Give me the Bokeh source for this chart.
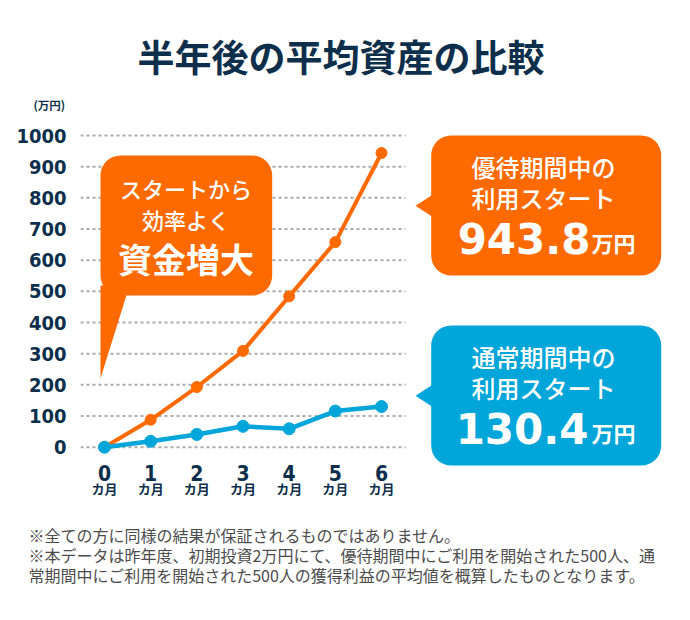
from bokeh.plotting import figure
from bokeh.models import Range1d, FixedTicker, LinearAxis, BoxAnnotation, PolyAnnotation, Label, Title
from bokeh.embed import file_html
from bokeh.resources import INLINE

# ---- data ----
months = [0, 1, 2, 3, 4, 5, 6]
month_labels = ["0", "1", "2", "3", "4", "5", "6"]
month_unit = "カ月"
preferential = [0, 88, 193, 309, 484, 658, 943.8]   # 優待期間中の利用スタート
regular = [0, 19, 41, 67, 59, 116, 130.4]           # 通常期間中の利用スタート
y_ticks = [0, 100, 200, 300, 400, 500, 600, 700, 800, 900, 1000]

title_text = "半年後の平均資産の比較"
unit_text = "(万円)"
note_lines = [
    "※全ての方に同様の結果が保証されるものではありません。",
    "※本データは昨年度、初期投資2万円にて、優待期間中にご利用を開始された500人、通",
    "常期間中にご利用を開始された500人の獲得利益の平均値を概算したものとなります。",
]

ORANGE = "#ff6a00"
BLUE = "#00a5d9"
NAVY = "#0d2f4c"
GREY_TXT = "#4d4d4d"
JP = "Noto Sans CJK JP"
JP_MED = "Noto Sans CJK JP Medium"
NARROW = "DejaVu Sans Condensed"

# ---- geometry (page pixels) ----
W, H = 674, 612
FL, FR, FT, FB = 80, 674, 118, 468
GRID_R = 405
X0PX, XSTEP = 104.0, 46.17
Y0PX, Y1000PX = 446.7, 135.0
YS = (Y0PX - Y1000PX) / 1000.0


def dx(px):
    return (px - X0PX) / XSTEP


def dy(py):
    return (Y0PX - py) / YS


p = figure(width=W, height=H,
           x_range=Range1d(dx(FL), dx(FR)), y_range=Range1d(dy(FB), dy(FT)),
           output_backend="svg", toolbar_location=None,
           min_border_left=FL, min_border_right=W - FR,
           min_border_top=FT, min_border_bottom=H - FB)
p.outline_line_color = None
p.background_fill_color = "white"
p.border_fill_color = "white"
p.xgrid.visible = False
p.ygrid.visible = False

# y axis
ya = p.yaxis[0]
ya.ticker = FixedTicker(ticks=y_ticks)
ya.axis_line_color = None
ya.major_tick_line_color = None
ya.minor_tick_line_color = None
ya.major_tick_out = 0
ya.major_tick_in = 0
ya.major_label_standoff = 14
ya.major_label_text_font = NARROW
ya.major_label_text_font_style = "bold"
ya.major_label_text_font_size = "20px"
ya.major_label_text_color = NAVY

# x axis numbers
xa = p.xaxis[0]
xa.ticker = FixedTicker(ticks=months)
xa.major_label_overrides = {m: l for m, l in zip(months, month_labels)}
xa.axis_line_color = None
xa.major_tick_line_color = None
xa.minor_tick_line_color = None
xa.major_tick_out = 0
xa.major_tick_in = 0
xa.major_label_standoff = -4
xa.major_label_text_font = NARROW
xa.major_label_text_font_style = "bold"
xa.major_label_text_font_size = "21px"
xa.major_label_text_color = NAVY

# x axis unit row
xa2 = LinearAxis(ticker=FixedTicker(ticks=months),
                 major_label_overrides={m: month_unit for m in months})
xa2.axis_line_color = None
xa2.major_tick_line_color = None
xa2.minor_tick_line_color = None
xa2.major_tick_out = 0
xa2.major_tick_in = 0
xa2.major_label_standoff = -5
xa2.major_label_text_font = JP
xa2.major_label_text_font_style = "bold"
xa2.major_label_text_font_size = "13px"
xa2.major_label_text_color = NAVY
p.add_layout(xa2, "below")

# titles above: unit (nearest the frame), then main title
p.add_layout(Title(text=unit_text, align="left", offset=33 - FL, standoff=12,
                   text_font=JP, text_font_style="bold", text_font_size="11.5px",
                   text_color=NAVY), "above")
p.add_layout(Title(text=title_text, align="left", offset=137 - FL, standoff=12,
                   text_font=JP, text_font_style="bold", text_font_size="37px",
                   text_color=NAVY), "above")

# notes below the axes (one multi-line title)
p.add_layout(Title(text="\n".join(note_lines), align="left", offset=28 - FL,
                   standoff=40, vertical_align="bottom",
                   text_font=JP, text_font_style="normal", text_font_size="16px",
                   text_line_height=0.85, text_color=GREY_TXT), "below")

# dashed grid lines (only across the chart area)
p.segment(x0=dx(FL), x1=dx(GRID_R), y0=y_ticks, y1=y_ticks,
          line_color="#aaaaaa", line_width=2, line_dash="3 3")

# data
p.line(months, preferential, line_width=4, color=ORANGE)
p.scatter(months, preferential, size=11, color=ORANGE)
p.line(months, regular, line_width=4.5, color=BLUE)
p.scatter(months, regular, size=12, color=BLUE)


def box(l, r, t, b, color):
    p.add_layout(BoxAnnotation(left=dx(l), right=dx(r), top=dy(t), bottom=dy(b),
                               fill_color=color, fill_alpha=1, line_color=None,
                               border_radius=20))


def poly(pts, color):
    p.add_layout(PolyAnnotation(xs=[dx(a) for a, _ in pts], ys=[dy(b) for _, b in pts],
                                fill_color=color, fill_alpha=1, line_color=None))


def txt(x, y, s, size, bold=False, align="center", font=JP, color="white"):
    p.add_layout(Label(x=dx(x), y=dy(y), text=s, text_align=align, text_baseline="middle",
                       text_font=font, text_font_style="bold" if bold else "normal",
                       text_font_size=size, text_color=color))


# left callout
box(100, 271.7, 155, 295, ORANGE)
poly([(100, 285), (129, 285), (100, 378)], ORANGE)
txt(185.5, 187.5, "スタートから", "22px", font=JP_MED)
txt(185.5, 218.5, "効率よく", "22px", font=JP_MED)
txt(185.5, 258.3, "資金増大", "34px", bold=True)

# right orange callout
box(430.7, 660.7, 135, 275, ORANGE)
poly([(436, 191.7), (415, 205.3), (436, 219)], ORANGE)
txt(543, 166, "優待期間中の", "24px", font=JP_MED)
txt(543, 197, "利用スタート", "24px", font=JP_MED)
txt(590, 238, "943.8", "42px", bold=True, align="right", font="DejaVu Sans")
txt(591, 241, "万円", "22px", bold=True, align="left")

# right blue callout
box(430.7, 660.7, 325, 465, BLUE)
poly([(436, 381.7), (415, 395.3), (436, 409)], BLUE)
txt(543, 356, "通常期間中の", "24px", font=JP_MED)
txt(543, 387, "利用スタート", "24px", font=JP_MED)
txt(588, 428, "130.4", "42px", bold=True, align="right", font="DejaVu Sans")
txt(591, 431, "万円", "22px", bold=True, align="left")

open("out.html", "w").write(file_html(p, INLINE))
